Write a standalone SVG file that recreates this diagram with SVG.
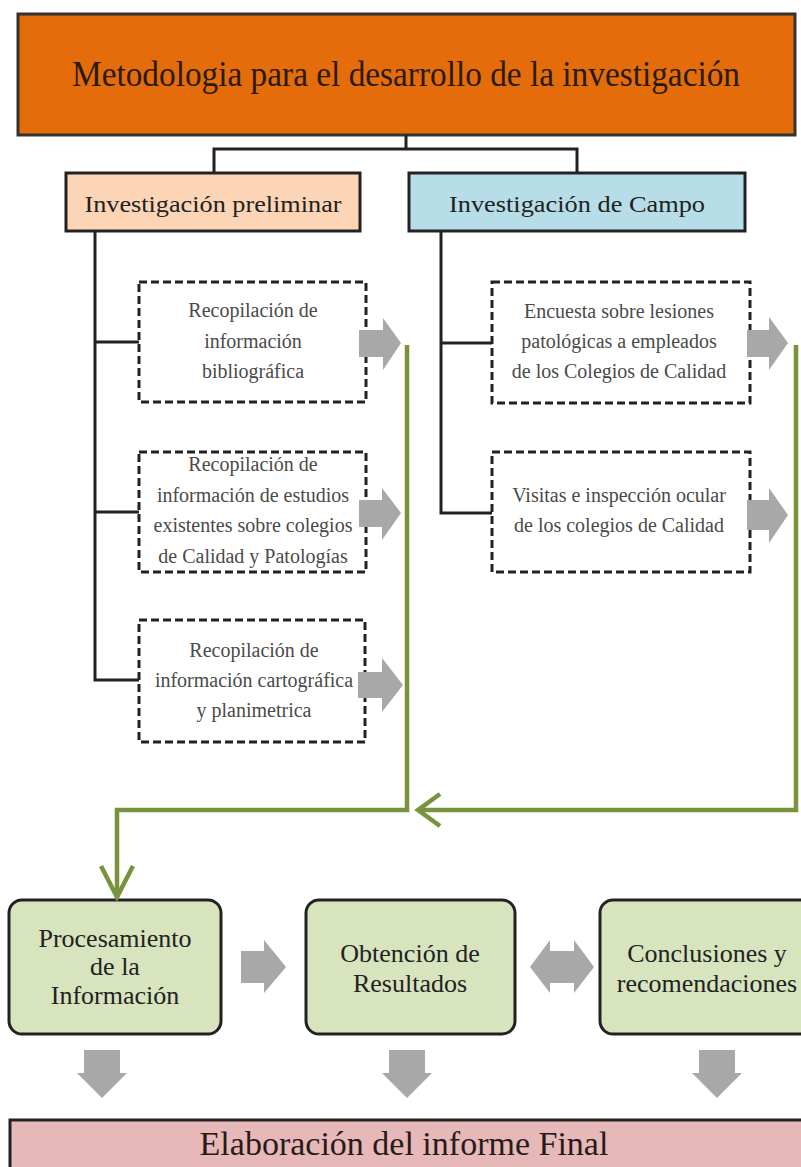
<svg xmlns="http://www.w3.org/2000/svg" width="801" height="1167" viewBox="0 0 801 1167">
<defs>
<style>
.t{font-family:"Liberation Serif","Times New Roman",serif;text-anchor:middle}
.title{font-size:36px;fill:#2a1a0a}
.hdr{font-size:23px;fill:#222}
.dt{font-size:20px;fill:#4a4a4a}
.bt{font-size:26px;fill:#222}
.dash{fill:#fff;stroke:#222;stroke-width:3;stroke-dasharray:8 4}
.blk{fill:none;stroke:#222;stroke-width:3}
.grn{fill:none;stroke:#77933C;stroke-width:4.5}
.ga{fill:#A8A8A8}
.gbox{fill:#D7E4BD;stroke:#222;stroke-width:3}
</style>
</defs>
<rect width="801" height="1167" fill="#fff"/>
<g id="title">
<rect x="18" y="14" width="777" height="121" fill="#E46C0A" stroke="#333" stroke-width="3"/>
<text class="t title" x="406" y="86" textLength="668" lengthAdjust="spacingAndGlyphs">Metodologia para el desarrollo de la investigación</text>
</g>
<g id="prelim">
<rect x="66" y="173" width="294" height="58" fill="#FBD5B5" stroke="#222" stroke-width="3"/>
<text class="t hdr" x="213" y="212" textLength="257" lengthAdjust="spacingAndGlyphs">Investigación preliminar</text>
</g>
<g id="campo">
<rect x="409" y="173" width="336" height="58" fill="#B7DEE8" stroke="#222" stroke-width="3"/>
<text class="t hdr" x="577" y="212" textLength="256" lengthAdjust="spacingAndGlyphs">Investigación de Campo</text>
</g>
<g id="box1">
<rect class="dash" x="139" y="282" width="227" height="120"/>
<text class="t dt" x="253" y="317">Recopilación de</text>
<text class="t dt" x="253" y="348">información</text>
<text class="t dt" x="253" y="378">bibliográfica</text>
</g>
<g id="box2">
<rect class="dash" x="139" y="452" width="227" height="120"/>
<text class="t dt" x="253" y="471">Recopilación de</text>
<text class="t dt" x="253" y="502">información de estudios</text>
<text class="t dt" x="253" y="532">existentes  sobre colegios</text>
<text class="t dt" x="253" y="563">de Calidad  y Patologías</text>
</g>
<g id="box3">
<rect class="dash" x="139" y="620" width="226" height="122"/>
<text class="t dt" x="254" y="657">Recopilación de</text>
<text class="t dt" x="254" y="687">información cartográfica</text>
<text class="t dt" x="254" y="717">y planimetrica</text>
</g>
<g id="box4">
<rect class="dash" x="492" y="282" width="258" height="121"/>
<text class="t dt" x="619" y="318">Encuesta sobre lesiones</text>
<text class="t dt" x="619" y="348">patológicas a empleados</text>
<text class="t dt" x="619" y="378">de los Colegios de Calidad</text>
</g>
<g id="box5">
<rect class="dash" x="492" y="452" width="258" height="120"/>
<text class="t dt" x="619" y="502">Visitas e inspección ocular</text>
<text class="t dt" x="619" y="532">de los colegios de Calidad</text>
</g>
<g id="proc">
<rect class="gbox" x="9" y="900" width="212" height="134" rx="13"/>
<text class="t bt" x="115" y="947">Procesamiento</text>
<text class="t bt" x="115" y="975">de la</text>
<text class="t bt" x="115" y="1004">Información</text>
</g>
<g id="obt">
<rect class="gbox" x="306" y="900" width="209" height="134" rx="13"/>
<text class="t bt" x="410" y="962">Obtención de</text>
<text class="t bt" x="410" y="992">Resultados</text>
</g>
<g id="concl">
<rect class="gbox" x="600" y="900" width="220" height="134" rx="13"/>
<text class="t bt" x="707" y="962">Conclusiones y</text>
<text class="t bt" x="707" y="992">recomendaciones</text>
</g>
<g id="final">
<rect x="10" y="1120" width="810" height="60" fill="#E6B9B8" stroke="#222" stroke-width="3"/>
<text class="t" x="404" y="1155" style="font-size:34px;fill:#2a1a1a">Elaboración del informe Final</text>
</g>
<g id="connectors">
<polyline class="blk" points="406,135 406,149"/>
<polyline class="blk" points="214,173 214,149 577,149 577,173"/>
<polyline class="blk" points="95,231 95,680 139,680"/>
<line class="blk" x1="95" y1="342" x2="139" y2="342"/>
<line class="blk" x1="95" y1="512" x2="139" y2="512"/>
<polyline class="blk" points="441,231 441,513 492,513"/>
<line class="blk" x1="441" y1="343" x2="492" y2="343"/>
<polyline class="grn" points="407,345 407,810 117,810 117,897"/>
<polyline class="grn" points="101,866 117,897 133,866"/>
<polyline class="grn" points="796,345 796,810 418,810"/>
<polyline class="grn" points="440,794 418,810 440,826"/>
<polygon class="ga" points="359,330 383,330 383,318 401,343 383,370 383,357 359,357"/>
<polygon class="ga" points="359,500 382,500 382,488 401,513 382,540 382,527 359,527"/>
<polygon class="ga" points="358,672 382,672 382,658 403,685 382,712 382,698 358,698"/>
<polygon class="ga" points="747,330 769,330 769,317 788,343 769,370 769,357 747,357"/>
<polygon class="ga" points="747,500 769,500 769,488 788,515 769,543 769,530 747,530"/>
<polygon class="ga" points="241,951 264,951 264,940 286,967 264,993 264,983 241,983"/>
<polygon class="ga" points="530,967 550,940 550,951 574,951 574,940 594,967 574,993 574,983 550,983 550,993"/>
<polygon class="ga" points="84,1050 120,1050 120,1073 127,1073 102,1098 77,1073 84,1073"/>
<polygon class="ga" points="389,1050 425,1050 425,1073 432,1073 407,1098 382,1073 389,1073"/>
<polygon class="ga" points="699,1050 735,1050 735,1073 742,1073 717,1098 692,1073 699,1073"/>
</g>
</svg>
